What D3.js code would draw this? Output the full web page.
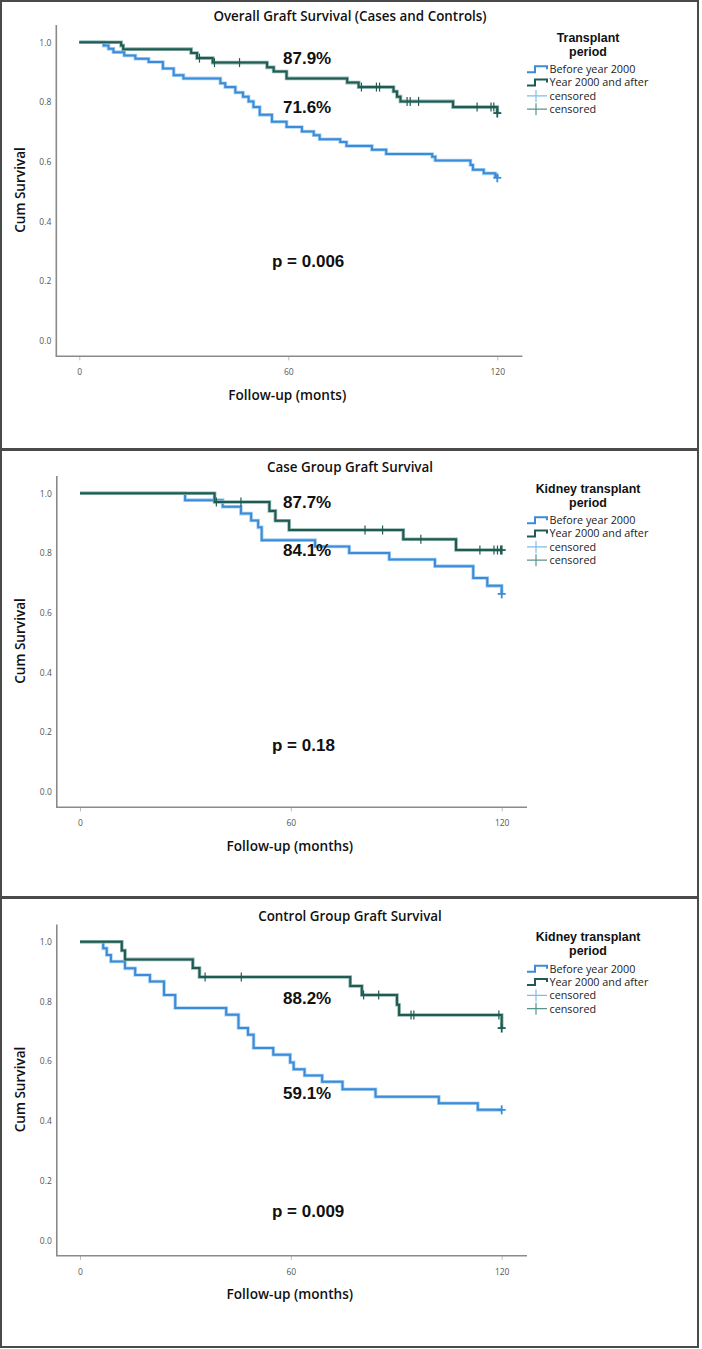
<!DOCTYPE html>
<html>
<head>
<meta charset="utf-8">
<script src="https://cdn.jsdelivr.net/npm/d3@7"></script>
<style>
  html, body { margin: 0; padding: 0; background: #fff; }
  svg { display: block; }
</style>
</head>
<body>
<svg id="chart" width="702" height="1349"></svg>
<script>
// ---------------- DATA ----------------
const panelTitles = [
  "Overall Graft Survival (Cases and Controls)",
  "Case Group Graft Survival",
  "Control Group Graft Survival"
];
const legendTitles = [
  ["Transplant", "period"],
  ["Kidney transplant", "period"],
  ["Kidney transplant", "period"]
];
const legendItems = ["Before year 2000", "Year 2000 and after", "censored", "censored"];
const xAxisLabels = ["Follow-up (monts)", "Follow-up (months)", "Follow-up (months)"];
const yAxisLabel = "Cum Survival";
const xTicks = [0, 60, 120];
const yTicks = [0, 0.2, 0.4, 0.6, 0.8, 1.0];
const pValues = ["p = 0.006", "p = 0.18", "p = 0.009"];
const pctAfter = ["87.9%", "87.7%", "88.2%"];
const pctBefore = ["71.6%", "84.1%", "59.1%"];

// Kaplan-Meier step points [month, cumulative survival]
const p1Before = [[0,1],[7,0.989],[8.4,0.978],[9.8,0.967],[12.9,0.956],[16.1,0.945],[19.9,0.934],
  [24,0.912],[27.1,0.890],[29.9,0.879],[40.5,0.863],[41.9,0.850],[44.8,0.832],[47,0.818],[48.6,0.802],
  [50,0.783],[51.8,0.757],[55.3,0.734],[59.5,0.716],[63.9,0.701],[67.3,0.689],[69,0.675],[74.9,0.666],
  [76.7,0.653],[84,0.640],[88.1,0.626],[101.3,0.617],[102.2,0.604],[112.3,0.589],[113,0.573],
  [116.1,0.561],[119.4,0.552],[120,0.546]];
const p1BeforeCens = [120];
const p1After = [[0,1],[12,0.989],[12.6,0.977],[32.1,0.964],[33.8,0.947],[38.3,0.932],[53.9,0.916],
  [55.8,0.902],[59.5,0.879],[76.9,0.865],[80.2,0.850],[90.2,0.835],[91.2,0.818],[92.2,0.802],
  [107.3,0.783],[120,0.763]];
const p1AfterCens = [34.5,38.8,46,81,85.3,86.2,94.1,95,97.4,114.2,118.2,119,120];

const p2Before = [[0,1],[29.9,0.977],[40.6,0.955],[45.8,0.932],[48.7,0.909],[50.7,0.886],[51.7,0.843],
  [66.9,0.822],[76.6,0.800],[88,0.778],[101,0.756],[111.9,0.716],[115.9,0.690],[120,0.663]];
const p2BeforeCens = [120];
const p2After = [[0,1],[38.3,0.971],[53.9,0.941],[55.6,0.908],[59.5,0.877],[92,0.846],[107,0.810],[120,0.810]];
const p2AfterCens = [38.8,45.8,81.1,86.1,97,113.8,117.8,118.8,119.7,120];

const p3Before = [[0,1],[6.6,0.978],[7.6,0.956],[8.8,0.934],[12.8,0.911],[15.7,0.889],[19.9,0.867],
  [23.9,0.822],[27.1,0.778],[41.6,0.756],[45.1,0.711],[47.8,0.689],[49.4,0.644],[55,0.622],
  [59.8,0.596],[60.8,0.573],[63.9,0.552],[68.9,0.531],[74.7,0.506],[84.1,0.481],[102.1,0.459],
  [113.2,0.437],[120,0.437]];
const p3BeforeCens = [120];
const p3After = [[0,1],[11.9,0.971],[12.8,0.941],[32.1,0.912],[34,0.882],[76.9,0.852],[80.2,0.822],
  [90.2,0.789],[90.8,0.755],[120,0.711]];
const p3AfterCens = [35.6,45.9,80.7,85,94.2,95,119.2,120];

const panelSeries = [
  {before: p1Before, beforeCens: p1BeforeCens, after: p1After, afterCens: p1AfterCens},
  {before: p2Before, beforeCens: p2BeforeCens, after: p2After, afterCens: p2AfterCens},
  {before: p3Before, beforeCens: p3BeforeCens, after: p3After, afterCens: p3AfterCens}
];

// ---------------- LAYOUT / STYLE ----------------
const panelTops = [0, 451, 899.5];
const panelBoxes = [[1, 1, 697, 448], [1, 450, 697, 447], [1, 898, 697, 449]];
const xRanges = [[79.3, 497.3], [80, 501.7], [80, 501.7]];
const pY = [267, 751, 1217];
const pctAfterY = [64, 508, 1003.5];
const pctBeforeY = [113, 556, 1099];

const blue = "#3b8bd8", blueHalo = "#a9d2f3";
const green = "#1f5b52", greenHalo = "#8fb5ae";
const greenCens = "#5a958b";
const axisColor = "#8a8a8a";
const tickText = "#555";
const uiFont = "'Open Sans', 'DejaVu Sans', sans-serif";
const numFont = "'Liberation Sans', Arial, sans-serif";

const svg = d3.select("#chart");
svg.append("rect").attr("width", 702).attr("height", 1349).attr("fill", "#fff");

function stepValue(series, t) {
  let v = series[0][1];
  for (const p of series) { if (p[0] <= t) v = p[1]; }
  return v;
}

panelSeries.forEach((ser, i) => {
  const oy = panelTops[i];
  const g = svg.append("g");
  const x = d3.scaleLinear().domain([0, 120]).range(xRanges[i]);
  const y = d3.scaleLinear().domain([0, 1]).range([oy + 340.8, oy + 42.3]);

  // panel border
  const b = panelBoxes[i];
  g.append("rect").attr("x", b[0]).attr("y", b[1]).attr("width", b[2]).attr("height", b[3])
    .attr("fill", "none").attr("stroke", "#4a4a4a").attr("stroke-width", 2);

  // title
  g.append("text").attr("x", 350).attr("y", oy + 21).attr("text-anchor", "middle")
    .attr("font-family", uiFont).attr("font-weight", 600).attr("font-size", 13.4)
    .attr("fill", "#111").text(panelTitles[i]);

  const x0 = x(-6.6), x1 = x(127.2);
  const yTop = y(1.058), yBot = y(-0.052);

  // x axis
  const xAxis = d3.axisBottom(x).tickValues(xTicks).tickSize(4).tickPadding(9).tickFormat(d3.format("d"));
  const xg = g.append("g").attr("transform", `translate(0,${yBot})`).call(xAxis);
  xg.select(".domain").remove();
  xg.selectAll(".tick line").attr("stroke", "#bbb").attr("stroke-width", 1);
  xg.selectAll(".tick text").attr("font-family", uiFont).attr("font-size", 8.5).attr("fill", tickText);

  // y axis
  const yAxis = d3.axisLeft(y).tickValues(yTicks).tickSize(0).tickPadding(5).tickFormat(d3.format(".1f"));
  const yg = g.append("g").attr("transform", `translate(${x0},0)`).call(yAxis);
  yg.select(".domain").remove();
  yg.selectAll(".tick text").attr("font-family", uiFont).attr("font-size", 8.5).attr("fill", tickText);

  // axis lines
  g.append("path").attr("d", `M${x0},${yTop}V${yBot}H${x1}`)
    .attr("fill", "none").attr("stroke", axisColor).attr("stroke-width", 1.6);

  // axis titles
  g.append("text").attr("x", (x(0) + x(120)) / 2 - 1).attr("y", oy + 399.5)
    .attr("text-anchor", "middle").attr("font-family", uiFont).attr("font-weight", 600)
    .attr("font-size", 13.6).attr("fill", "#111").text(xAxisLabels[i]);
  g.append("text").attr("transform", `translate(25,${oy + 190}) rotate(-90)`)
    .attr("text-anchor", "middle").attr("font-family", uiFont).attr("font-weight", 600)
    .attr("font-size", 13.6).attr("fill", "#111").text(yAxisLabel);

  // curves
  const line = d3.line().x(d => x(d[0])).y(d => y(d[1])).curve(d3.curveStepAfter);
  const drawCurve = (data, col, halo) => {
    g.append("path").datum(data).attr("d", line).attr("fill", "none")
      .attr("stroke", halo).attr("stroke-width", 3.6).attr("stroke-linejoin", "miter");
    g.append("path").datum(data).attr("d", line).attr("fill", "none")
      .attr("stroke", col).attr("stroke-width", 2).attr("stroke-linejoin", "miter");
  };
  drawCurve(ser.before, blue, blueHalo);
  drawCurve(ser.after, green, greenHalo);

  const drawCens = (times, data, col) => {
    times.forEach(t => {
      const cx = x(t), cy = y(stepValue(data, t));
      const last = t >= 120;
      g.append("line").attr("x1", cx).attr("x2", cx).attr("y1", cy - 4.5).attr("y2", cy + 4.5)
        .attr("stroke", col).attr("stroke-width", last ? 1.8 : 1.2);
      if (last) {
        g.append("line").attr("x1", cx - 4).attr("x2", cx + 4).attr("y1", cy).attr("y2", cy)
          .attr("stroke", col).attr("stroke-width", 1.8);
      }
    });
  };
  drawCens(ser.beforeCens, ser.before, blue);
  drawCens(ser.afterCens, ser.after, green);

  // annotations
  g.append("text").attr("x", 283).attr("y", pctAfterY[i]).attr("font-family", numFont)
    .attr("font-weight", 700).attr("font-size", 17).attr("fill", "#111").text(pctAfter[i]);
  g.append("text").attr("x", 283).attr("y", pctBeforeY[i]).attr("font-family", numFont)
    .attr("font-weight", 700).attr("font-size", 17).attr("fill", "#111").text(pctBefore[i]);
  g.append("text").attr("x", 272).attr("y", pY[i]).attr("font-family", numFont)
    .attr("font-weight", 700).attr("font-size", 17).attr("fill", "#111").text(pValues[i]);

  // legend
  const lt = legendTitles[i];
  lt.forEach((s, k) => {
    g.append("text").attr("text-anchor", "middle").attr("x", 588).attr("y", oy + 41.5 + k * 14)
      .attr("font-family", numFont).attr("font-weight", 700).attr("font-size", 12.4)
      .attr("fill", "#111").text(s);
  });
  const legendColors = [blue, green, "#7fbdec", greenCens];
  legendItems.forEach((s, k) => {
    const ly = oy + 69.3 + k * 13.3;
    if (k < 2) {
      g.append("path").attr("d", `M527,${ly + 3}H535V${ly - 3}H547V${ly}`)
        .attr("fill", "none").attr("stroke", legendColors[k]).attr("stroke-width", 2);
    } else {
      g.append("path").attr("d", `M527,${ly}H547M536,${ly - 6}V${ly + 6}`)
        .attr("fill", "none").attr("stroke", legendColors[k]).attr("stroke-width", 1.2);
    }
    g.append("text").attr("x", 549.5).attr("y", ly + 3.8).attr("font-family", uiFont)
      .attr("font-size", 10.8).attr("fill", "#222").text(s);
  });
});
</script>
</body>
</html>
